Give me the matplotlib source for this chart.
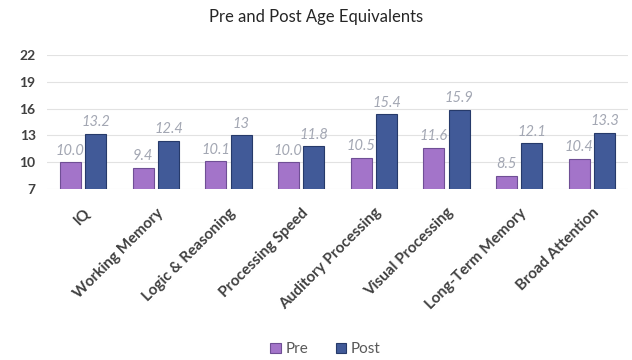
import matplotlib
matplotlib.use("Agg")
import matplotlib.pyplot as plt
import numpy as np

plt.rcParams['font.family'] = ['Lato', 'DejaVu Sans']

categories = ['IQ', 'Working Memory', 'Logic & Reasoning', 'Processing Speed',
              'Auditory Processing', 'Visual Processing', 'Long-Term Memory',
              'Broad Attention']
pre = [10.0, 9.4, 10.1, 10.0, 10.5, 11.6, 8.5, 10.4]
post = [13.2, 12.4, 13.0, 11.8, 15.4, 15.9, 12.1, 13.3]
pre_labels = ['10.0', '9.4', '10.1', '10.0', '10.5', '11.6', '8.5', '10.4']
post_labels = ['13.2', '12.4', '13', '11.8', '15.4', '15.9', '12.1', '13.3']
yticks = [7, 10, 13, 16, 19, 22]

pre_color = '#a374c9'
post_color = '#415a98'
label_color = '#a3a7b3'

fig = plt.figure(figsize=(6.32, 3.6), dpi=100)
ax = fig.add_axes([0.074, 0.475, 0.92, 0.372])

x = np.arange(len(categories))
w = 0.29
off = 0.175
b1 = ax.bar(x - off, pre, w, color=pre_color, edgecolor='#6f4f95', linewidth=0.8, label='Pre', zorder=3)
b2 = ax.bar(x + off, post, w, color=post_color, edgecolor='#263a6a', linewidth=0.8, label='Post', zorder=3)

for bars, labs in ((b1, pre_labels), (b2, post_labels)):
    for r, t in zip(bars, labs):
        ax.text(r.get_x() + r.get_width() / 2, r.get_height() + 0.5, t,
                ha='center', va='bottom', fontsize=10.5, style='italic',
                color=label_color)

ax.set_ylim(7, 22)
ax.set_xlim(-0.5, len(categories) - 0.5)
ax.set_yticks(yticks)
ax.set_yticklabels([str(v) for v in yticks], fontsize=10, fontweight='bold', color='#404040')
ax.set_xticks(x)
ax.set_xticklabels(categories, rotation=45, ha='right', rotation_mode='anchor',
                   fontsize=11, fontweight='bold', color='#404040')
ax.tick_params(axis='x', length=0, pad=12)
ax.tick_params(axis='y', length=0, pad=8)
ax.yaxis.grid(True, color='#e2e2e2', linewidth=0.8, zorder=0)
for s in ax.spines.values():
    s.set_visible(False)

fig.suptitle('Pre and Post Age Equivalents', y=0.975, fontsize=12, color='#262626')
fig.legend(handles=[b1, b2], loc='center', bbox_to_anchor=(0.515, 0.03), ncol=2,
           frameon=False, fontsize=11, handlelength=0.7, handleheight=0.7,
           columnspacing=1.8, handletextpad=0.3, labelcolor='#595959')

fig.savefig('out.png', dpi=100)
